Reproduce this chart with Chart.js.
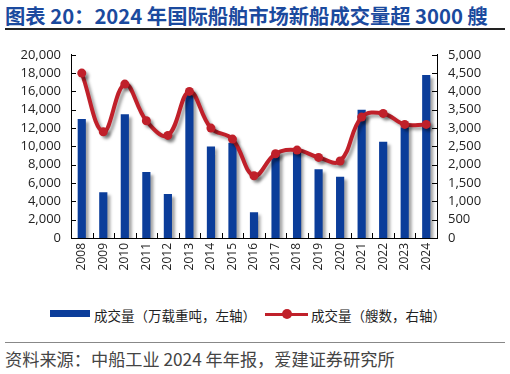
<!DOCTYPE html>
<html>
<head>
<meta charset="utf-8">
<script src="https://cdn.jsdelivr.net/npm/chart.js@4.4.1/dist/chart.umd.min.js"></script>
<style>
body { margin: 0; width: 510px; height: 374px; background: #fff; position: relative; overflow: hidden; font-family: "Noto Sans CJK SC", "Noto Sans", sans-serif; }
#title { position: absolute; left: 5px; top: 0px; font-size: 20.3px; font-weight: bold; color: #1B4A9E; white-space: nowrap; }
#titleLine { position: absolute; left: 5px; top: 28px; width: 500px; height: 2px; background: #222; }
#wrap { position: absolute; left: 0; top: 36px; width: 510px; height: 260px; }
#legend { position: absolute; top: 305px; left: 0; width: 510px; height: 20px; font-size: 13.5px; color: #222; }
#legend .item { position: absolute; top: 0; white-space: nowrap; }
#footLine { position: absolute; left: 5px; top: 342px; width: 500px; height: 1px; background: #888; }
#source { position: absolute; left: 5px; top: 346px; font-size: 17.2px; color: #444; white-space: nowrap; }
</style>
</head>
<body>
<div id="title">图表 20：2024 年国际船舶市场新船成交量超 3000 艘</div>
<div id="titleLine"></div>
<div id="wrap"><canvas id="myCanvas" width="510" height="260"></canvas></div>
<div id="legend">
  <div class="item" style="left:50px;top:5px;width:40px;height:7px;background:#0B3D9A;"></div>
  <div class="item" style="left:94px;" id="lab1"></div>
  <div class="item" style="left:265px;top:8px;width:43px;height:3px;background:#C0202A;"></div>
  <div class="item" style="left:282px;top:4px;width:10px;height:10px;border-radius:5px;background:#C0202A;"></div>
  <div class="item" style="left:311px;" id="lab2"></div>
</div>
<div id="footLine"></div>
<div id="source">资料来源：中船工业 2024 年年报，爱建证券研究所</div>
<script>
'use strict';

var years = ["2008", "2009", "2010", "2011", "2012", "2013", "2014", "2015", "2016",
             "2017", "2018", "2019", "2020", "2021", "2022", "2023", "2024"];
// 成交量（万载重吨，左轴）
var dwtVolume = [13000, 5000, 13500, 7200, 4800, 15600, 10000, 10400, 2800,
                 9200, 9400, 7500, 6700, 14000, 10500, 12100, 17800];
// 成交量（艘数，右轴）
var shipCount = [4500, 2900, 4200, 3200, 2800, 4000, 3000, 2700, 1700,
                 2300, 2400, 2200, 2100, 3300, 3400, 3100, 3100];
var seriesNames = ["成交量（万载重吨，左轴）", "成交量（艘数，右轴）"];
var leftTicks = [0, 2000, 4000, 6000, 8000, 10000, 12000, 14000, 16000, 18000, 20000];
var rightTicks = [0, 500, 1000, 1500, 2000, 2500, 3000, 3500, 4000, 4500, 5000];

document.getElementById('lab1').textContent = seriesNames[0];
document.getElementById('lab2').textContent = seriesNames[1];

// shadows under bars and the line
var shadowPlugin = {
    id: 'shadow',
    beforeDatasetsDraw: function(chart) {
        var c = chart.ctx;
        c.save();
        c.shadowColor = 'rgba(0,0,0,0.35)';
        c.shadowOffsetX = 3;
        c.shadowOffsetY = 3;
        c.shadowBlur = 3;
    },
    afterDatasetsDraw: function(chart) {
        chart.ctx.restore();
    }
};

// tick marks pointing into the plot
var innerTicks = {
    id: 'innerTicks',
    afterDraw: function(chart) {
        var c = chart.ctx;
        var area = chart.chartArea;
        var yl = chart.scales.y, yr = chart.scales.y1;
        c.save();
        c.strokeStyle = '#000';
        c.lineWidth = 1;
        c.beginPath();
        leftTicks.forEach(function(v) {
            var p = Math.round(yl.getPixelForValue(v)) + 0.5;
            c.moveTo(area.left, p); c.lineTo(area.left + 5, p);
        });
        rightTicks.forEach(function(v) {
            var p = Math.round(yr.getPixelForValue(v)) + 0.5;
            c.moveTo(area.right, p); c.lineTo(area.right - 5, p);
        });
        var step = (area.right - area.left) / years.length;
        for (var i = 1; i < years.length; i++) {
            var px = Math.round(area.left + i * step) + 0.5;
            c.moveTo(px, area.bottom); c.lineTo(px, area.bottom - 5);
        }
        c.stroke();
        c.restore();
    }
};

var ctx = document.getElementById("myCanvas").getContext("2d");
var myChart = new Chart(ctx, {
    data: {
        labels: years,
        datasets: [
            {
                type: 'line',
                label: seriesNames[1],
                data: shipCount,
                yAxisID: 'y1',
                borderColor: '#C0202A',
                backgroundColor: '#C0202A',
                borderWidth: 4,
                tension: 0.4,
                pointRadius: 4.5,
                pointBackgroundColor: '#C0202A',
                pointBorderWidth: 0,
                order: 0
            },
            {
                type: 'bar',
                label: seriesNames[0],
                data: dwtVolume,
                yAxisID: 'y',
                backgroundColor: '#0B3D9A',
                barPercentage: 0.38,
                categoryPercentage: 1,
                order: 1
            }
        ]
    },
    options: {
        responsive: false,
        animation: false,
        layout: { padding: { top: 17, left: 0, right: 0, bottom: 0 } },
        plugins: { legend: { display: false }, tooltip: { enabled: false } },
        scales: {
            x: {
                grid: { display: false, drawTicks: false },
                border: { display: true, color: '#000', width: 1 },
                ticks: { minRotation: 90, maxRotation: 90, padding: 5, color: '#222', autoSkip: false,
                         font: { family: 'Open Sans', size: 12 } },
                afterFit: function(s) { s.height = 58; }
            },
            y: {
                position: 'left',
                min: 0, max: 20000,
                grid: { display: false, drawTicks: false },
                border: { display: true, color: '#000', width: 1 },
                afterBuildTicks: function(s) { s.ticks = leftTicks.map(function(v) { return { value: v }; }); },
                ticks: { padding: 10, color: '#222', autoSkip: false, font: { family: 'Open Sans', size: 13 },
                         callback: function(v) { return v.toLocaleString('en-US'); } },
                afterFit: function(s) { s.width = 71; }
            },
            y1: {
                position: 'right',
                min: 0, max: 5000,
                grid: { display: false, drawTicks: false },
                border: { display: true, color: '#000', width: 1 },
                afterBuildTicks: function(s) { s.ticks = rightTicks.map(function(v) { return { value: v }; }); },
                ticks: { padding: 11, color: '#222', autoSkip: false, font: { family: 'Open Sans', size: 13 },
                         callback: function(v) { return v.toLocaleString('en-US'); } },
                afterFit: function(s) { s.width = 73; }
            }
        }
    },
    plugins: [shadowPlugin, innerTicks]
});
</script>
</body>
</html>
